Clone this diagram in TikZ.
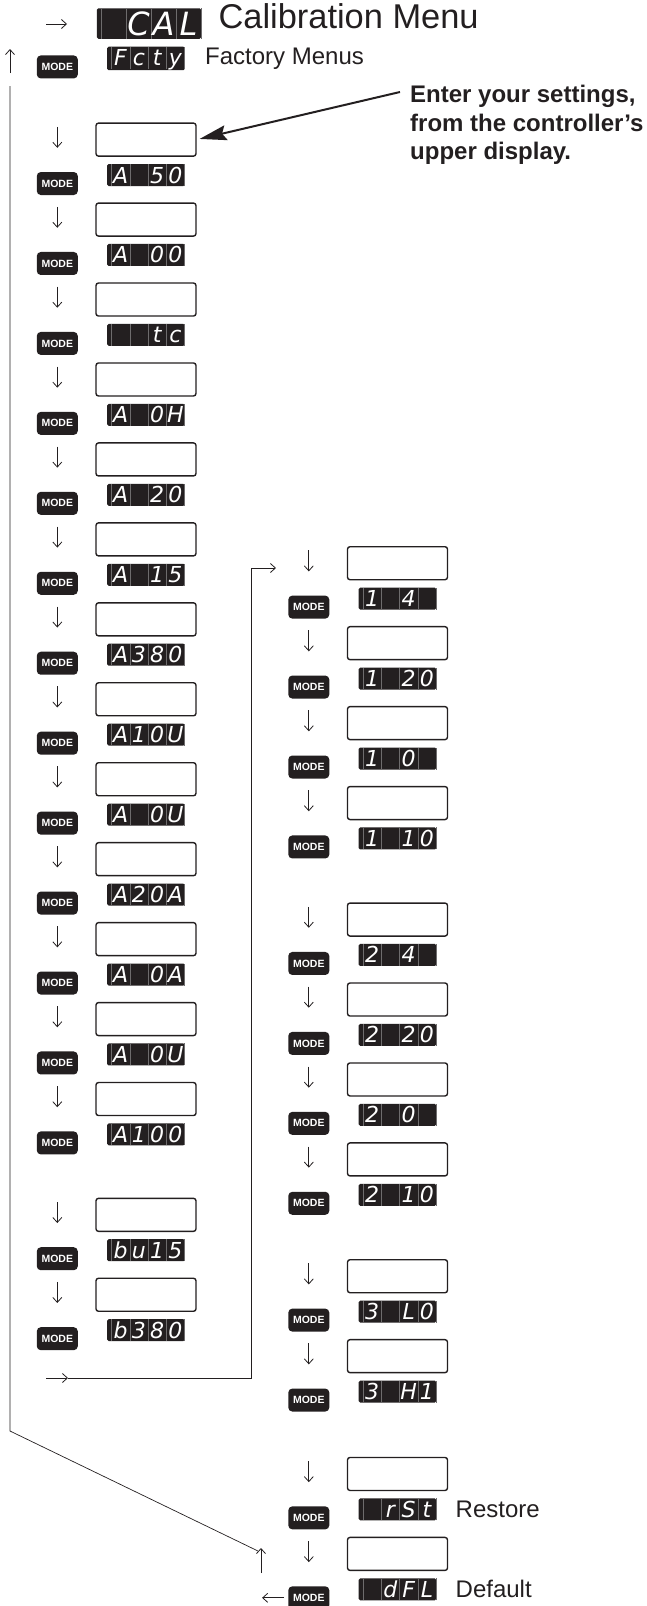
\documentclass[tikz,border=0pt]{standalone}
\usepackage{fontspec}
\usepackage{xcolor}
\usepackage{tikz}
\usetikzlibrary{arrows.meta, positioning}
\setmainfont{Liberation Sans}
\newfontfamily\segfont{DejaVu Sans}
\definecolor{panel}{HTML}{231F20}
\definecolor{cellline}{HTML}{6E6C6D}

\newlength{\segw}\setlength{\segw}{17.9pt}
\newlength{\segh}\setlength{\segh}{22pt}
\newlength{\segd}\setlength{\segd}{3pt}
\newcommand{\segrule}{\textcolor{cellline}{\rule[-\segd]{0.4pt}{\segh}}}
\newcommand{\segcells}[4]{\hspace{4pt}\segrule\makebox[\segw]{#1}\segrule\makebox[\segw]{#2}\segrule\makebox[\segw]{#3}\segrule\makebox[\segw]{#4}\segrule\hspace{3.5pt}}

% one step: entry box, display under it, MODE key to the left, arrow above the key
% #1 name, #2 previous display, #3 gap, #4-#7 the four cells
\newcommand{\menustep}[7]{
    \node (box#1) [valuebox, below=#3 of disp#2] {};
    \node (disp#1) [dispbox, below=7pt of box#1] {\segcells{#4}{#5}{#6}{#7}};
    \node (mode#1) [modekey, left=29pt of disp#1, yshift=-8.5pt] {MODE};
    \coordinate (top#1) at ([yshift=45pt]mode#1.north);
    \coordinate (tip#1) at ([yshift=24pt]mode#1.north);
    \draw[steparrow] (top#1) -- (tip#1);
}

\begin{document}
\begin{tikzpicture}[x=1pt, y=-1pt, >={Straight Barb[length=5pt, width=9pt]},
    valuebox/.style={draw=panel, line width=1.4pt, rounded corners=2.5pt, minimum width=100pt, minimum height=33pt, inner sep=0pt},
    dispbox/.style={fill=panel, rounded corners=1.5pt, inner sep=0pt, text=white, font=\segfont\itshape\fontsize{22}{22}\selectfont},
    modekey/.style={fill=panel, rounded corners=4pt, minimum width=41pt, minimum height=23pt, inner sep=0pt, text=white, font=\bfseries\fontsize{10.5}{10.5}\selectfont},
    steparrow/.style={->, panel, line width=0.8pt},
    flowline/.style={panel, line width=0.7pt},
    label/.style={text=panel, inner sep=0pt, font=\fontsize{24}{24}\selectfont}]
    \useasboundingbox (0,0) rectangle (647,1606);

    \node (dispcal) [dispbox, font=\segfont\itshape\fontsize{32}{32}\selectfont] at (149,23.5) {\setlength{\segw}{24.6pt}\setlength{\segh}{30.5pt}\setlength{\segd}{3.5pt}\segcells{}{C}{A}{L}};
    \node (title) [label, right=17pt of dispcal, yshift=7pt, font=\fontsize{34.4}{34.4}\selectfont] {Calibration Menu};
    \node (dispfcty) [dispbox, below=7.5pt of dispcal, xshift=-3pt] {\segcells{F}{c}{t}{y}};
    \node (factory) [label, right=20pt of dispfcty] {Factory Menus};
    \node (modefcty) [modekey, left=29pt of dispfcty, yshift=-8.5pt] {MODE};

    % first column
    \menustep{a50}{fcty}{52pt}{A}{}{5}{0}
    \menustep{a00}{a50}{16.15pt}{A}{}{0}{0}
    \menustep{tc}{a00}{16.15pt}{}{}{t}{c}
    \menustep{a0h}{tc}{16.15pt}{A}{}{0}{H}
    \menustep{a20}{a0h}{16.15pt}{A}{}{2}{0}
    \menustep{a15}{a20}{16.15pt}{A}{}{1}{5}
    \menustep{a380}{a15}{16.15pt}{A}{3}{8}{0}
    \menustep{a10u}{a380}{16.15pt}{A}{1}{0}{U}
    \menustep{a0u}{a10u}{16.15pt}{A}{}{0}{U}
    \menustep{a20a}{a0u}{16.15pt}{A}{2}{0}{A}
    \menustep{a0a}{a20a}{16.15pt}{A}{}{0}{A}
    \menustep{a0ub}{a0a}{16.15pt}{A}{}{0}{U}
    \menustep{a100}{a0ub}{16.15pt}{A}{1}{0}{0}
    \menustep{bu15}{a100}{52pt}{b}{u}{1}{5}
    \menustep{b380}{bu15}{16.15pt}{b}{3}{8}{0}

    % second column
    \coordinate (dispstart) at (397.5,530);
    \menustep{i4}{start}{16pt}{1}{}{4}{}
    \menustep{i20}{i4}{16.15pt}{1}{}{2}{0}
    \menustep{i0}{i20}{16.15pt}{1}{}{0}{}
    \menustep{i10}{i0}{16.15pt}{1}{}{1}{0}
    \menustep{ii4}{i10}{52.7pt}{2}{}{4}{}
    \menustep{ii20}{ii4}{16.15pt}{2}{}{2}{0}
    \menustep{ii0}{ii20}{16.15pt}{2}{}{0}{}
    \menustep{ii10}{ii0}{16.15pt}{2}{}{1}{0}
    \menustep{lo}{ii10}{53pt}{3}{}{L}{0}
    \menustep{hi}{lo}{16.15pt}{3}{}{H}{1}
    \menustep{rst}{hi}{54pt}{}{r}{S}{t}
    \menustep{dfl}{rst}{16.15pt}{}{d}{F}{L}
    \node (restore) [label, right=19pt of disprst] {Restore};
    \node (default) [label, right=19pt of dispdfl] {Default};

    % flow lines
    \coordinate (intail) at (46,24);
    \coordinate (inhead) at (67,24);
    \draw[steparrow] (intail) -- (inhead);
    \coordinate (backtail) at (10,73);
    \coordinate (backhead) at (10,49);
    \draw[steparrow] (backtail) -- (backhead);
    \coordinate (longtop) at (10,86);
    \coordinate (longbend) at (10,1431);
    \coordinate (longend) at (258,1551);
    \draw[flowline] (longtop) -- (longbend) -- (longend);
    \coordinate (uptail) at (261,1573);
    \coordinate (uphead) at (261,1548);
    \draw[steparrow] (uptail) -- (uphead);
    \coordinate (exittail) at ([xshift=-4pt]modedfl.west);
    \coordinate (exithead) at ([xshift=-26pt]modedfl.west);
    \draw[steparrow] (exittail) -- (exithead);

    \coordinate (jumptail) at (46,1378);
    \coordinate (jumphead) at (68,1378);
    \coordinate (jumpbend) at (251,1378);
    \coordinate (jumptop) at (251,568);
    \coordinate (jumpend) at (276,568);
    \draw[steparrow] (jumptail) -- (jumphead);
    \draw[flowline] (jumphead) -- (jumpbend) -- (jumptop);
    \draw[steparrow] (jumptop) -- (jumpend);

    % note
    \node (note) [label, font=\bfseries\fontsize{24}{28.5}\selectfont, align=left, anchor=north west] at (410,85) {Enter your settings,\\from the controller's\\upper display.};
    \coordinate (notetail) at (400,92);
    \draw[-{Stealth[length=27pt, width=15pt, inset=4pt]}, panel, line width=2pt, shorten >=3pt] (notetail) -- (boxa50.east);
\end{tikzpicture}
\end{document}
